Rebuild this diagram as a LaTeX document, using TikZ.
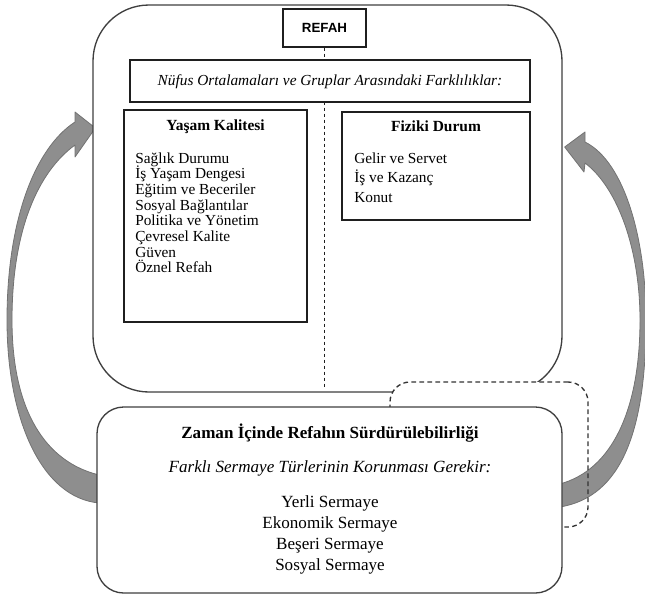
\documentclass[tikz,border=0pt]{standalone}
\usepackage{fontspec}
\setmainfont{Liberation Serif}
\setsansfont{Liberation Sans}
\usetikzlibrary{calc,positioning}
\pgfdeclarelayer{back}
\pgfdeclarelayer{front}
\pgfsetlayers{back,main,front}
\definecolor{boxline}{HTML}{3F3F3F}
\definecolor{panelline}{HTML}{1F1F1F}
\definecolor{arrowgray}{HTML}{8E8E8E}
\definecolor{arrowedge}{HTML}{727272}

\begin{document}
\begin{tikzpicture}[
    x=0.75pt, y=-0.75pt,
    every node/.style={inner sep=0pt, font=\fontsize{11.5}{13.8}\selectfont},
    bigbox/.style={rectangle, draw=boxline, fill=white, line width=1pt},
    panel/.style={rectangle, draw=panelline, fill=white, line width=0.8pt},
    boxtitle/.style={anchor=base, font=\fontsize{11.6}{13.9}\selectfont\bfseries},
    listitem/.style={anchor=base west},
    lowtext/.style={anchor=base, font=\fontsize{12.8}{15.4}\selectfont},
    linkbox/.style={rectangle, rounded corners=15pt, minimum width=148.5pt, minimum height=108.75pt},
    bigarrow/.style={fill=arrowgray, draw=arrowedge, line width=0.6pt, line join=round}
]
    \useasboundingbox (0,0) rectangle (645,597);

    % === BOTTOM: SUSTAINABILITY OVER TIME ===
    \begin{pgfonlayer}{front}
    \node[bigbox, rounded corners=20pt, minimum width=348.75pt, minimum height=139.5pt] (zaman) at (329.5,500) {};
    \node[lowtext, font=\fontsize{12.8}{15.4}\selectfont\bfseries] (zamantitle) at (330,438) {Zaman İçinde Refahın Sürdürülebilirliği};
    \node[lowtext, font=\fontsize{12.8}{15.4}\selectfont\itshape] (sermaye) at (330,472) {Farklı Sermaye Türlerinin Korunması Gerekir:};
    \foreach \txt [count=\i] in {Yerli Sermaye, Ekonomik Sermaye, Beşeri Sermaye, Sosyal Sermaye}
        \node[lowtext] (capital-\i) at (330,{486+21*\i}) {\txt};
    \end{pgfonlayer}

    % === TOP: WELL-BEING ===
    \node[bigbox, rounded corners=42pt, minimum width=351.75pt, minimum height=290.25pt] (refahbox) at (327.5,198.5) {};
    \node[panel, minimum width=62.25pt, minimum height=28.5pt, font=\fontsize{10}{12}\sffamily\bfseries] (refah) at (324.5,28) {REFAH};
    \draw[panelline, line width=0.6pt, dash pattern=on 2.5pt off 2pt, shorten >=3pt] (refah.south) -- (refah.south |- refahbox.south);

    % averages and group differences
    \node[panel, minimum width=300pt, minimum height=31.5pt] (nufus) at (330,81) {};
    \node[anchor=base, font=\fontsize{11.5}{13.8}\selectfont\itshape] (nufustext) at (330,85) {Nüfus Ortalamaları ve Gruplar Arasındaki Farklılıklar:};

    % quality of life
    \node[panel, minimum width=137.25pt, minimum height=159pt] (yasam) at (215.5,216) {};
    \node[boxtitle] (yasamtitle) at (215.5,130) {Yaşam Kalitesi};
    \foreach \txt [count=\i] in {Sağlık Durumu, İş Yaşam Dengesi, Eğitim ve Beceriler, Sosyal Bağlantılar, Politika ve Yönetim, Çevresel Kalite, Güven, Öznel Refah}
        \node[listitem] (yasam-\i) at (135,{147.3+15.7*\i}) {\txt};

    % material conditions
    \node[panel, minimum width=141pt, minimum height=81pt] (fiziki) at (436,166) {};
    \node[boxtitle] (fizikititle) at (436,131) {Fiziki Durum};
    \foreach \txt [count=\i] in {Gelir ve Servet, İş ve Kazanç, Konut}
        \node[listitem] (fiziki-\i) at (354,{143.5+19.5*\i}) {\txt};

    % === DASHED LINK ===
    \node[linkbox, fill=white] (linkbg) at (489,454.5) {};

    % right arrow
    \draw[bigarrow] ($(zaman.east)+(-3,7)$) .. controls (622,497) and (646,430) .. (646,320)
        .. controls (646,240) and (625,162) .. (585,142) -- (585,132)
        -- ($(refahbox.east)+(2,-51.5)$) -- (584,172) -- (585,163)
        .. controls (618,188) and (640,250) .. (640,320)
        .. controls (640,410) and (612,470) .. ($(zaman.east)+(-3,-16)$) -- cycle;

    \node[linkbox, draw=black!80, line width=1pt, dash pattern=on 3.5pt off 2.5pt] (link) at (linkbg) {};

    % left arrow
    \begin{pgfonlayer}{back}
    \draw[bigarrow] ($(zaman.west)+(3,3)$) .. controls (42,498) and (7,420) .. (7,320)
        .. controls (7,220) and (35,148) .. (75,122) -- (75,112)
        -- ($(refahbox.west)+(3,-70.5)$) -- (75,157) -- (75,145)
        .. controls (38,172) and (12,230) .. (12,320)
        .. controls (12,410) and (45,462) .. ($(zaman.west)+(3,-25)$) -- cycle;
    \end{pgfonlayer}
\end{tikzpicture}
\end{document}
